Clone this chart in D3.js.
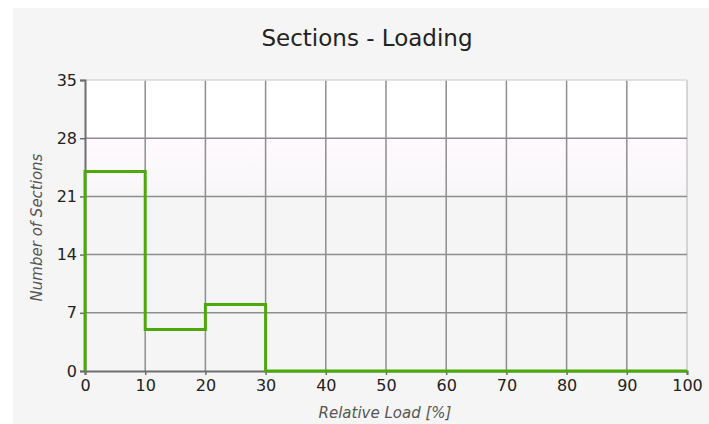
<!DOCTYPE html>
<html>
<head>
<meta charset="utf-8">
<script src="https://cdn.jsdelivr.net/npm/d3@7"></script>
<style>
  body { margin: 0; background: #fff; }
  svg text { font-family: "DejaVu Sans", sans-serif; }
</style>
</head>
<body>
<div id="chart"></div>
<script>
// bins of relative load (%) and number of sections in each
const binStarts = [0, 10, 20, 30];
const binEnd = 100;
const sectionCounts = [24, 5, 8, 0];
const xTicks = [0, 10, 20, 30, 40, 50, 60, 70, 80, 90, 100];
const yTicks = [0, 7, 14, 21, 28, 35];

const width = 709, height = 424;
const margin = { top: 80, right: 22, bottom: 53, left: 85 };

const svg = d3.select("#chart").append("svg")
  .attr("width", width)
  .attr("height", height);

// panel background
svg.append("rect")
  .attr("x", 13).attr("y", 8)
  .attr("width", width - 13).attr("height", height - 8)
  .attr("fill", "#f5f5f5");

const x = d3.scaleLinear().domain([0, 100]).range([margin.left, width - margin.right]);
const y = d3.scaleLinear().domain([0, 35]).range([height - margin.bottom, margin.top]);

// soft pink fade for the 21-28 band
const defs = svg.append("defs");
const grad = defs.append("linearGradient")
  .attr("id", "pinkFade")
  .attr("x1", 0).attr("x2", 0).attr("y1", 0).attr("y2", 1);
grad.append("stop").attr("offset", "0%").attr("stop-color", "#fdf9fd");
grad.append("stop").attr("offset", "70%").attr("stop-color", "#fbf8fb");
grad.append("stop").attr("offset", "100%").attr("stop-color", "#f6f5f6");

// plot background bands (white at top fading to grey)
const bands = [
  { from: 28, to: 35, fill: "#ffffff" },
  { from: 21, to: 28, fill: "url(#pinkFade)" },
  { from: 0, to: 21, fill: "#f5f5f5" }
];
svg.append("g").selectAll("rect")
  .data(bands)
  .enter().append("rect")
  .attr("x", x(0))
  .attr("width", x(100) - x(0))
  .attr("y", d => y(d.to))
  .attr("height", d => y(d.from) - y(d.to))
  .attr("fill", d => d.fill);

// grid
const grid = svg.append("g").attr("class", "grid");
grid.selectAll(".vline")
  .data(xTicks.slice(1))
  .enter().append("line")
  .attr("x1", d => x(d)).attr("x2", d => x(d))
  .attr("y1", y(35)).attr("y2", y(0))
  .attr("stroke", d => d === 100 ? "#c8c8c8" : "#8e8e8e")
  .attr("stroke-width", 1.5);
grid.selectAll(".hline")
  .data(yTicks.slice(1))
  .enter().append("line")
  .attr("x1", x(0)).attr("x2", x(100))
  .attr("y1", d => y(d)).attr("y2", d => y(d))
  .attr("stroke", d => d === 35 ? "#d8d8d8" : "#8e8e8e")
  .attr("stroke-width", 1.5);

// axes
const yAxis = svg.append("g")
  .attr("transform", `translate(${x(0)},0)`)
  .call(d3.axisLeft(y).tickValues(yTicks).tickSize(5).tickPadding(3));
const xAxis = svg.append("g")
  .attr("transform", `translate(0,${y(0)})`)
  .call(d3.axisBottom(x).tickValues(xTicks).tickSize(4).tickPadding(5));

[xAxis, yAxis].forEach(a => {
  a.select(".domain").attr("stroke", "#6e6e6e").attr("stroke-width", 2);
  a.selectAll(".tick line").attr("stroke", "#6e6e6e").attr("stroke-width", 1.5);
  a.selectAll(".tick text")
    .attr("fill", "#222")
    .attr("font-size", "16px")
    .style("font-family", "'DejaVu Sans', sans-serif");
});

// step line
const points = [[binStarts[0], 0]]
  .concat(binStarts.map((b, i) => [b, sectionCounts[i]]))
  .concat([[binEnd, sectionCounts[sectionCounts.length - 1]]]);

const line = d3.line()
  .x(d => x(d[0]))
  .y(d => y(d[1]))
  .curve(d3.curveStepAfter);

svg.append("path")
  .datum(points)
  .attr("fill", "none")
  .attr("stroke", "#4ca90a")
  .attr("stroke-width", 3)
  .attr("d", line);

// title + axis labels
svg.append("text")
  .attr("x", 367).attr("y", 46)
  .attr("text-anchor", "middle")
  .attr("font-size", "23px")
  .attr("fill", "#222")
  .text("Sections - Loading");

svg.append("text")
  .attr("x", 385).attr("y", 418)
  .attr("text-anchor", "middle")
  .attr("font-size", "15px")
  .attr("font-style", "italic")
  .attr("fill", "#555")
  .text("Relative Load [%]");

svg.append("text")
  .attr("transform", `translate(42,${(y(0) + y(35)) / 2 + 2}) rotate(-90)`)
  .attr("text-anchor", "middle")
  .attr("font-size", "15px")
  .attr("font-style", "italic")
  .attr("fill", "#555")
  .text("Number of Sections");
</script>
</body>
</html>
